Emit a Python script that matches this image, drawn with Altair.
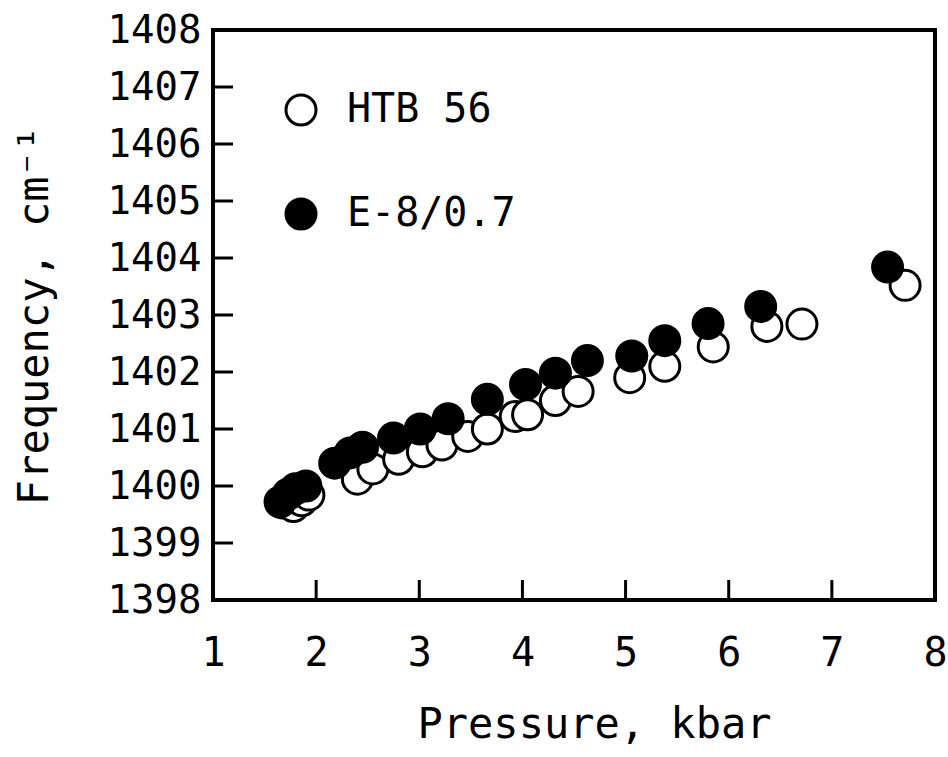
import altair as alt
import pandas as pd

# HTB 56 (open circles)
p_htb = [1.68, 1.78, 1.86, 1.93, 2.40, 2.55, 2.80, 3.03, 3.22, 3.47, 3.66, 3.93, 4.05, 4.32, 4.54, 5.04, 5.38, 5.85, 6.37, 6.71, 7.71]
f_htb = [1399.70, 1399.64, 1399.74, 1399.84, 1400.12, 1400.30, 1400.47, 1400.60, 1400.72, 1400.87, 1401.00, 1401.22, 1401.25, 1401.50, 1401.66, 1401.90, 1402.10, 1402.44, 1402.80, 1402.84, 1403.52]

# E-8/0.7 (filled circles)
p_e = [1.65, 1.73, 1.80, 1.90, 2.18, 2.33, 2.45, 2.75, 3.01, 3.28, 3.66, 4.03, 4.32, 4.63, 5.06, 5.38, 5.80, 6.31, 7.54]
f_e = [1399.72, 1399.86, 1399.95, 1400.00, 1400.40, 1400.58, 1400.68, 1400.84, 1401.00, 1401.18, 1401.52, 1401.78, 1401.98, 1402.20, 1402.28, 1402.55, 1402.85, 1403.15, 1403.84]

series_names = ["HTB 56", "E-8/0.7"]
x_tick_vals = [2, 3, 4, 5, 6, 7]
y_tick_vals = [1399, 1400, 1401, 1402, 1403, 1404, 1405, 1406, 1407]
x_label_vals = [1, 2, 3, 4, 5, 6, 7, 8]
y_label_vals = [1398, 1399, 1400, 1401, 1402, 1403, 1404, 1405, 1406, 1407, 1408]

df = pd.concat([
    pd.DataFrame({"p": p_htb, "f": f_htb, "s": series_names[0]}),
    pd.DataFrame({"p": p_e, "f": f_e, "s": series_names[1]}),
], ignore_index=True)

FONT = "DejaVu Sans Mono"
xs = alt.Scale(domain=[1, 8], nice=False, zero=False)
ys = alt.Scale(domain=[1398, 1408], nice=False, zero=False)

points = alt.Chart(df).mark_point(
    shape="circle", filled=True, size=900, stroke="black", strokeWidth=3, opacity=1
).encode(
    x=alt.X("p:Q", scale=xs, axis=alt.Axis(
        values=x_label_vals, format="d", title="Pressure, kbar",
        domain=False, ticks=False, tickSize=0, grid=False, labelFlush=False,
        labelFontSize=40, labelFont=FONT, labelPadding=33, labelColor="black",
        titleFontSize=42, titleFont=FONT, titleFontWeight="normal", titleColor="black",
        titleX=381, titleY=137, titleBaseline="alphabetic", titleAlign="center",
    )),
    y=alt.Y("f:Q", scale=ys, axis=alt.Axis(
        values=y_label_vals, format="d", title="Frequency, cm⁻¹",
        domain=False, ticks=False, tickSize=0, grid=False, labelFlush=False,
        labelFontSize=39, labelFont=FONT, labelPadding=12, labelColor="black",
        titleFontSize=42, titleFont=FONT, titleFontWeight="normal", titleColor="black",
        titleX=-166, titleY=285, titleAngle=-90, titleBaseline="alphabetic", titleAlign="center",
    )),
    fill=alt.Fill("s:N", scale=alt.Scale(domain=series_names, range=["white", "black"]),
                  legend=alt.Legend(
                      title=None, orient="none", legendX=68, legendY=60,
                      symbolType="circle", symbolSize=900, symbolStrokeColor="black",
                      symbolStrokeWidth=3, symbolOpacity=1,
                      labelFontSize=40, labelFont=FONT, labelColor="black", labelLimit=0,
                      labelOffset=26, rowPadding=62, padding=0,
                  )),
)

yt = alt.Chart(pd.DataFrame({"f": y_tick_vals})).mark_rule(color="black", strokeWidth=3).encode(
    y=alt.Y("f:Q", scale=ys), x=alt.value(0), x2=alt.value(20)
)
xt = alt.Chart(pd.DataFrame({"p": x_tick_vals})).mark_rule(color="black", strokeWidth=3).encode(
    x=alt.X("p:Q", scale=xs), y=alt.value(570), y2=alt.value(550)
)

chart = alt.layer(points, yt, xt).properties(
    width=722, height=570,
    autosize=alt.AutoSizeParams(type="none"),
    padding={"left": 213, "top": 30, "right": 13, "bottom": 157},
    background="white",
).configure(font=FONT).configure_view(stroke="black", strokeWidth=4)

chart.save("out.html", embed_options={"renderer": "svg", "actions": False})
